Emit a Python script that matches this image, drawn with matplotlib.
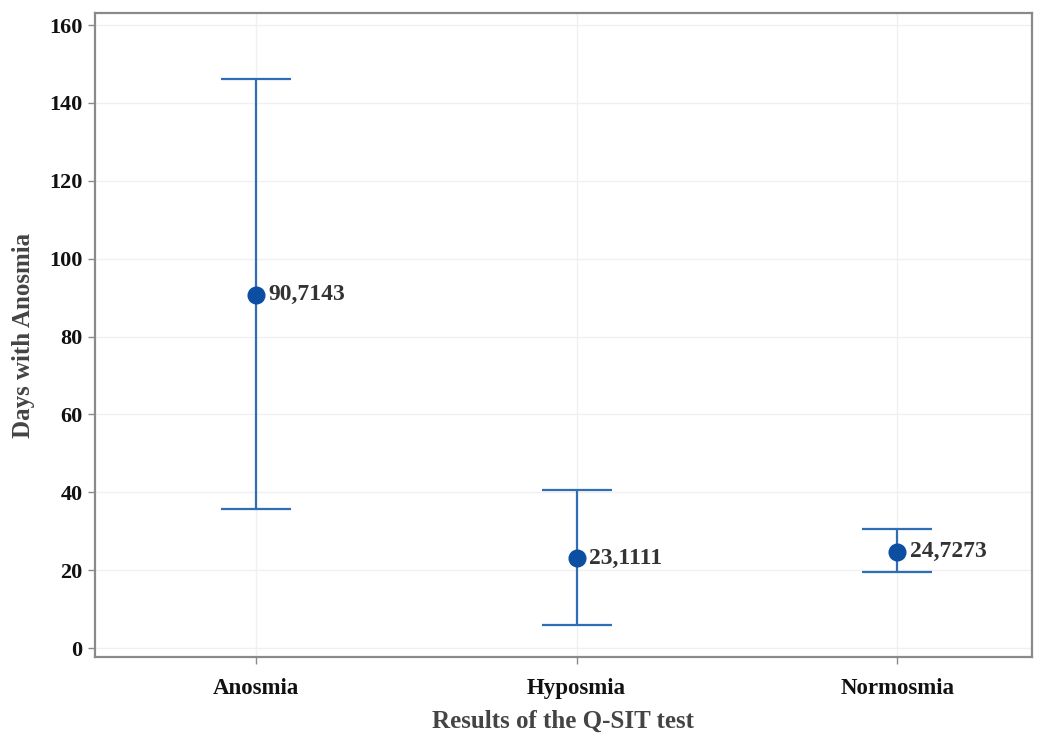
import matplotlib
matplotlib.use("Agg")
import matplotlib.pyplot as plt

categories = ["Anosmia", "Hyposmia", "Normosmia"]
means = [90.7143, 23.1111, 24.7273]
lower = [35.6, 5.9, 19.5]
upper = [146.2, 40.6, 30.6]
labels = ["90,7143", "23,1111", "24,7273"]
yticks = [0, 20, 40, 60, 80, 100, 120, 140, 160]

plt.rcParams['font.family'] = ['Liberation Serif', 'DejaVu Serif']

fig = plt.figure(figsize=(10.46, 7.33), dpi=100)
ax = fig.add_axes([95/1046, 1 - 657/733, (1032-95)/1046, (657-13)/733])

x = list(range(len(categories)))
line_col = '#2f6db4'
mark_col = '#0b4ea2'
yerr = [[m - l for m, l in zip(means, lower)], [u - m for m, u in zip(means, upper)]]
ax.errorbar(x, means, yerr=yerr, fmt='none', ecolor=line_col, elinewidth=1.6,
            capsize=25, capthick=1.6, zorder=3)
ax.plot(x, means, 'o', color=mark_col, markersize=12, zorder=4)
for xi, m, t in zip(x, means, labels):
    ax.annotate(t, (xi, m), xytext=(9, 0), textcoords='offset points',
                ha='left', va='center', fontsize=17, fontweight='bold', color='#333333')

ax.set_xlim(-0.502, 2.42)
ax.set_ylim(-2.3, 163.1)
ax.set_xticks(x)
ax.set_xticklabels(categories, fontsize=16.5, fontweight='bold', color='#111111')
ax.set_yticks(yticks)
ax.set_yticklabels([str(v) for v in yticks], fontsize=16, fontweight='bold', color='#111111')
ax.grid(True, color='#f0f0f0', linewidth=1)
ax.set_axisbelow(True)
for s in ax.spines.values():
    s.set_color('#8a8a8a')
    s.set_linewidth(1.6)
ax.tick_params(axis='both', color='#8a8a8a', length=5, width=1)
ax.tick_params(axis='x', pad=10)
ax.tick_params(axis='y', pad=4)
ax.set_xlabel("Results of the Q-SIT test", fontsize=18, fontweight='bold', color='#444444', labelpad=8)
ax.set_ylabel("Days with Anosmia", fontsize=18, fontweight='bold', color='#444444', labelpad=10)

fig.savefig("out.png", dpi=100)
